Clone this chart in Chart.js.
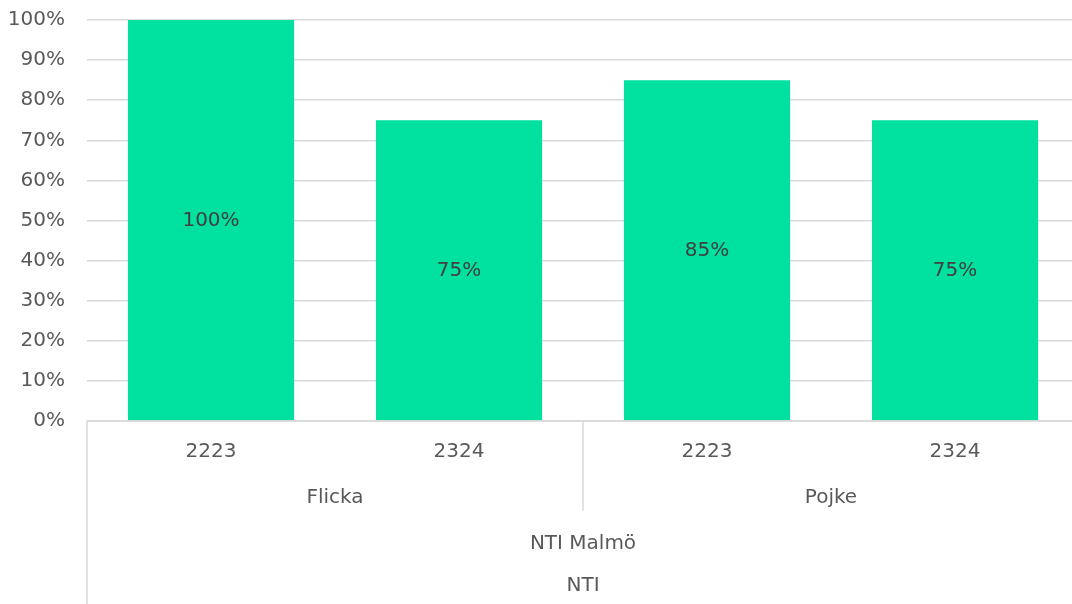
<!DOCTYPE html>
<html><head><meta charset="utf-8">
<script src="https://cdn.jsdelivr.net/npm/chart.js@4"></script>
<style>html,body{margin:0;padding:0;overflow:hidden;background:#fff}#wrap{width:1080px;height:604px;position:relative}</style>
</head><body><div id="wrap"><canvas id="c"></canvas></div>
<script>
const years = ["2223","2324","2223","2324"];
const genders = ["Flicka","Pojke"];
const school = "NTI Malmö";
const org = "NTI";
const values = [100, 75, 85, 75];
const yTicks = [0,10,20,30,40,50,60,70,80,90,100];

const FONT = '"DejaVu Sans", sans-serif';
const multiLevel = {
  id:'multiLevel',
  afterDraw(chart){
    const ctx = chart.ctx, x = chart.scales.x, ca = chart.chartArea;
    ctx.save();
    ctx.font = '20px ' + FONT; ctx.fillStyle = '#404040'; ctx.textAlign='center'; ctx.textBaseline='middle';
    const meta = chart.getDatasetMeta(0);
    meta.data.forEach((bar,i)=>{ ctx.fillText(values[i]+'%', bar.x, (bar.y+bar.base)/2+1); });
    ctx.strokeStyle = '#d9d9d9'; ctx.lineWidth = 1.5;
    ctx.beginPath(); ctx.moveTo(ca.left, ca.bottom); ctx.lineTo(ca.right, ca.bottom); ctx.stroke();
    ctx.beginPath(); ctx.moveTo(ca.left, ca.bottom); ctx.lineTo(ca.left, chart.height); ctx.stroke();
    const mid = (x.getPixelForValue(1)+x.getPixelForValue(2))/2;
    ctx.beginPath(); ctx.moveTo(mid, ca.bottom); ctx.lineTo(mid, ca.bottom+90); ctx.stroke();
    ctx.fillStyle = '#595959'; ctx.font = '20px ' + FONT;
    years.forEach((t,i)=>ctx.fillText(t, x.getPixelForValue(i), ca.bottom+31));
    genders.forEach((g,j)=>{
      const cx = (x.getPixelForValue(2*j)+x.getPixelForValue(2*j+1))/2;
      ctx.fillText(g, cx, ca.bottom+77);
    });
    const full = (x.getPixelForValue(0)+x.getPixelForValue(3))/2;
    ctx.fillText(school, full, ca.bottom+123);
    ctx.fillText(org, full, ca.bottom+165);
    ctx.restore();
  }
};

new Chart(document.getElementById('c'), {
  type:'bar',
  data:{ labels: years.map((y,i)=>i), datasets:[{ data: values, backgroundColor:'#00E09E', borderWidth:0, categoryPercentage:1, barPercentage:0.67 }]},
  options:{
    responsive:true, maintainAspectRatio:false, animation:false,
    layout:{ padding:{ top:20, bottom:183, right:1, left:0 } },
    plugins:{ legend:{display:false}, tooltip:{enabled:false} },
    scales:{
      x:{ grid:{display:false, drawTicks:false}, border:{display:false}, ticks:{display:false} },
      y:{ min:0, max:100, afterFit(s){ s.width = 87; s.paddingTop = 0; s.paddingBottom = 0; },
          afterBuildTicks(s){ s.ticks = yTicks.map(v=>({value:v})); },
          grid:{ color:'#d9d9d9', lineWidth:1.5, drawTicks:false }, border:{display:false},
          ticks:{ padding:22, color:'#595959', font:{ family:FONT, size:20 }, callback:v=>v+'%' } }
    }
  },
  plugins:[multiLevel]
});
</script></body></html>
